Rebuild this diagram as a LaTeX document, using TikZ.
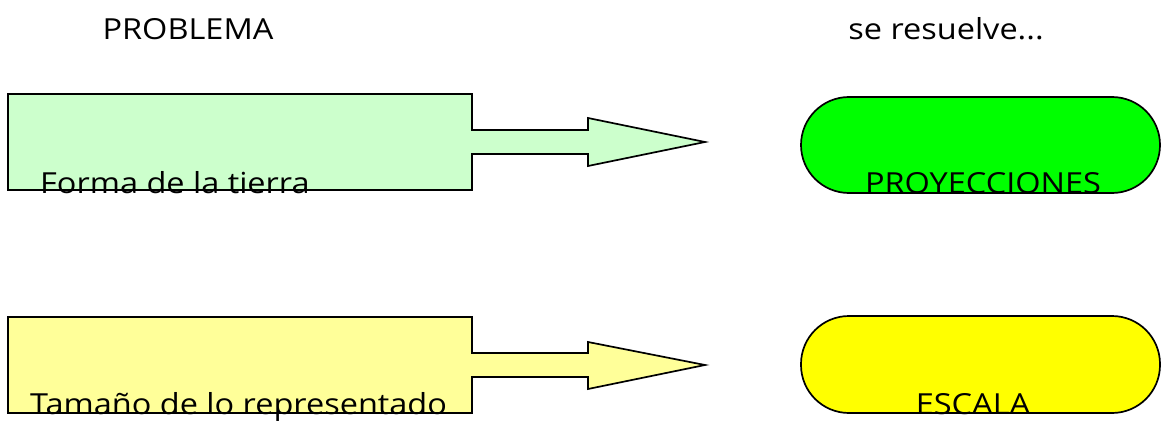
\documentclass[tikz,border=0pt]{standalone}
\usepackage{fontspec}
\setmainfont{Open Sans}[FakeStretch=1.12]
\definecolor{lgreen}{HTML}{CCFFCC}
\definecolor{vgreen}{HTML}{00FF00}
\definecolor{lyellow}{HTML}{FFFF99}
\definecolor{vyellow}{HTML}{FFFF00}
\begin{document}
\begin{tikzpicture}[x=1pt,y=-1pt,
  lbl/.style={inner sep=0pt,font=\fontsize{29}{32}\selectfont},
  shapeline/.style={draw=black,line width=1.7pt,line join=miter},
  pill/.style={shapeline,rounded corners=48pt}]
\useasboundingbox (0,0) rectangle (1161,425);
\path[shapeline,fill=lgreen] (8,94) -- (472,94) -- (472,130) -- (588,130) -- (588,118) -- (705,142) -- (588,166) -- (588,154) -- (472,154) -- (472,190) -- (8,190) -- cycle;
\path[shapeline,fill=lyellow] (8,317) -- (472,317) -- (472,353) -- (588,353) -- (588,342) -- (705,365) -- (588,389) -- (588,377) -- (472,377) -- (472,413) -- (8,413) -- cycle;
\path[pill,fill=vgreen] (801,97) rectangle (1160,193);
\path[pill,fill=vyellow] (801,316) rectangle (1160,413);
\node[lbl,anchor=base west] (t1) at (40,193) {Forma de la tierra};
\node[lbl,anchor=base west] (t2) at (30,414) {Tamaño de lo representado};
\node[lbl,anchor=base] (p1) at (983,193) {PROYECCIONES};
\node[lbl,anchor=base] (p2) at (973,414) {ESCALA};
\node[lbl,anchor=base] (h1) at (188,40) {PROBLEMA};
\node[lbl,anchor=base] (h2) at (946,40) {se resuelve...};
\end{tikzpicture}
\end{document}
